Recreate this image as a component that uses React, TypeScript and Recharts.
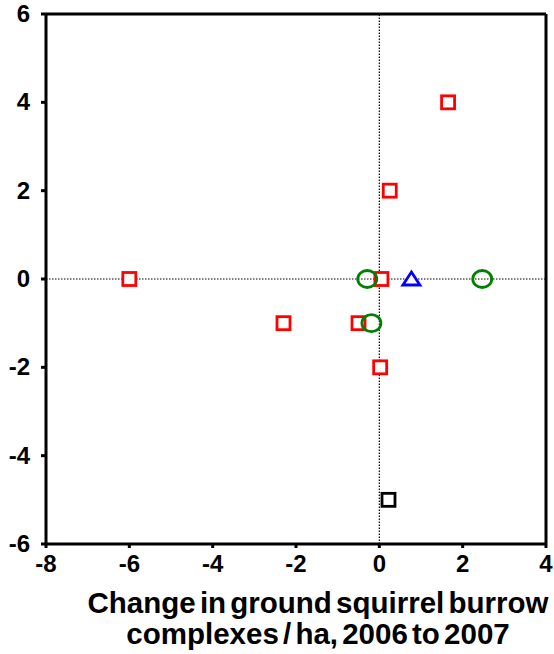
import { ReferenceLine, Scatter, ScatterChart, XAxis, YAxis } from "recharts";

const redSquares = [
  { x: -6, y: 0 },
  { x: -2.3, y: -1 },
  { x: -0.5, y: -1 },
  { x: 0.05, y: 0 },
  { x: 0.25, y: 2 },
  { x: 1.65, y: 4 },
  { x: 0.02, y: -2 },
];
const blackSquares = [{ x: 0.22, y: -5 }];
const greenCircles = [
  { x: -0.29, y: 0 },
  { x: -0.19, y: -1 },
  { x: 2.47, y: 0 },
];
const blueTriangles = [{ x: 0.77, y: 0 }];

const xTicks = [-8, -6, -4, -2, 0, 2, 4];
const yTicks = [-6, -4, -2, 0, 2, 4, 6];
const xTitle = ["Change in ground squirrel burrow", "complexes / ha, 2006 to 2007"];

const font = "'Liberation Sans', Arial, sans-serif";
const axisLine = { stroke: "#000", strokeWidth: 3 };
const tickLine = { stroke: "#000", strokeWidth: 3 };

const XTick = (p: any) => (
  <text x={p.x} y={p.y + 22} textAnchor="middle" fontFamily={font} fontWeight={700} fontSize={24} fill="#000">
    {p.payload.value}
  </text>
);
const YTick = (p: any) => (
  <text x={p.x - 9} y={p.y + 8} textAnchor="end" fontFamily={font} fontWeight={700} fontSize={24} fill="#000">
    {p.payload.value}
  </text>
);

const square = (color: string) => (p: any) => (
  <rect x={p.cx - 6.5} y={p.cy - 6.5} width={13} height={13} fill="#fff" stroke={color} strokeWidth={2.8} />
);
const circle = (p: any) => (
  <ellipse cx={p.cx} cy={p.cy} rx={9.5} ry={8.5} fill="none" stroke="#008000" strokeWidth={2.8} />
);
const triangle = (p: any) => (
  <path
    d={`M${p.cx},${p.cy - 7} L${p.cx + 8.5},${p.cy + 6} L${p.cx - 8.5},${p.cy + 6} Z`}
    fill="#fff"
    stroke="#0000ff"
    strokeWidth={2.8}
  />
);

const XTitle = (props: any) => {
  const vb = props.viewBox;
  const cx = vb.x + vb.width / 2 + 22;
  return (
    <text
      textAnchor="middle"
      fontFamily={font}
      fontWeight={700}
      fontSize={29.5}
      wordSpacing={-4}
      fill="#000"
    >
      <tspan x={cx} y={vb.y + 69}>{xTitle[0]}</tspan>
      <tspan x={cx} y={vb.y + 100}>{xTitle[1]}</tspan>
    </text>
  );
};

export default function App() {
  return (
    <div style={{ position: "absolute", left: 0, top: 0, width: 554, height: 654, background: "#fff" }}>
      <ScatterChart width={554} height={654} margin={{ top: 14, right: 8, left: 0, bottom: 0 }}>
        <XAxis
          type="number"
          dataKey="x"
          domain={[-8, 4]}
          ticks={xTicks}
          tick={<XTick />}
          axisLine={axisLine}
          tickLine={tickLine}
          tickSize={4}
          height={110}
          interval={0}
          label={<XTitle />}
        />
        <YAxis
          type="number"
          dataKey="y"
          domain={[-6, 6]}
          ticks={yTicks}
          tick={<YTick />}
          axisLine={axisLine}
          tickLine={tickLine}
          tickSize={5}
          width={46}
          interval={0}
        />
        <ReferenceLine y={6} stroke="#000" strokeWidth={3} />
        <ReferenceLine x={4} stroke="#000" strokeWidth={3} />
        <ReferenceLine x={0} stroke="#000" strokeWidth={1.2} strokeDasharray="1.5 1.5" />
        <ReferenceLine y={0} stroke="#000" strokeWidth={1.2} strokeDasharray="1.5 1.5" />
        <Scatter data={redSquares} shape={square("#ff0000")} isAnimationActive={false} />
        <Scatter data={blackSquares} shape={square("#000")} isAnimationActive={false} />
        <Scatter data={greenCircles} shape={circle} isAnimationActive={false} />
        <Scatter data={blueTriangles} shape={triangle} isAnimationActive={false} />
      </ScatterChart>
    </div>
  );
}
